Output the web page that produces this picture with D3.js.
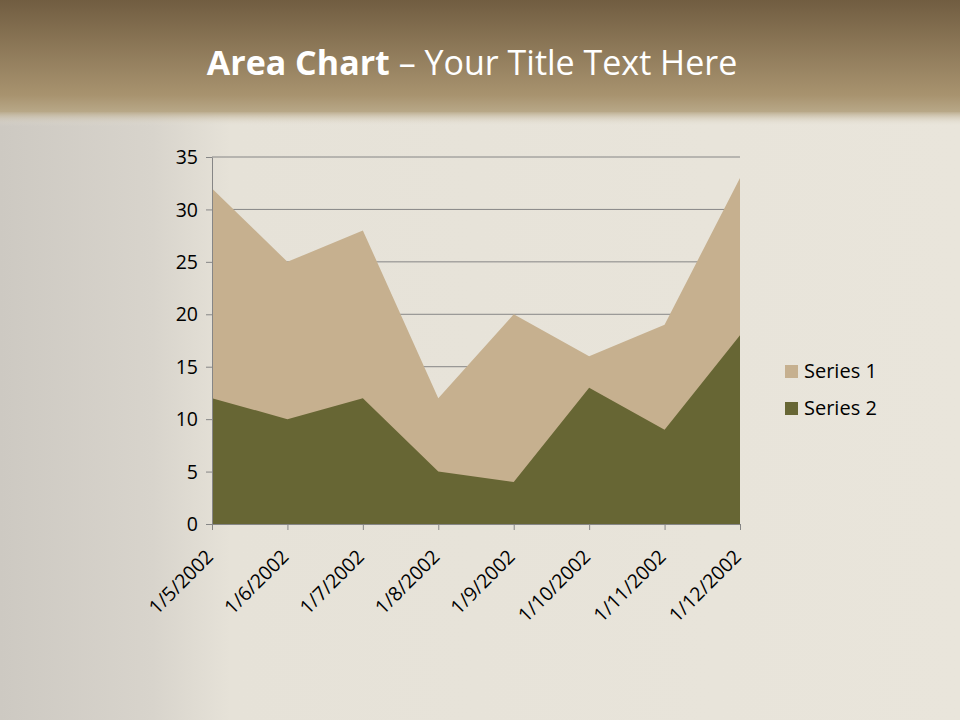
<!DOCTYPE html>
<html><head><meta charset="utf-8">
<script src="https://cdn.jsdelivr.net/npm/d3@7"></script>
<style>body{margin:0;background:#e8e4da;}svg{display:block;}</style>
</head><body>
<svg id="c" width="960" height="720"></svg>
<script>
const categories = ["1/5/2002","1/6/2002","1/7/2002","1/8/2002","1/9/2002","1/10/2002","1/11/2002","1/12/2002"];
const series1 = [32, 25, 28, 12, 20, 16, 19, 33];
const series2 = [12, 10, 12, 5, 4, 13, 9, 18];
const seriesNames = ["Series 1", "Series 2"];
const yTicks = [0, 5, 10, 15, 20, 25, 30, 35];

(function(){
const svg = d3.select("#c");
const defs = svg.append("defs");

// background
const bgH = defs.append("linearGradient").attr("id","bgH").attr("x1",0).attr("x2",1).attr("y1",0).attr("y2",0);
bgH.append("stop").attr("offset","0").attr("stop-color","#cdc9c2");
bgH.append("stop").attr("offset","0.16").attr("stop-color","#d8d4cc");
bgH.append("stop").attr("offset","0.24").attr("stop-color","#e6e2d8");
bgH.append("stop").attr("offset","1").attr("stop-color","#e9e5db");
svg.append("rect").attr("width",960).attr("height",720).attr("fill","url(#bgH)");

const hdr = defs.append("linearGradient").attr("id","hdr").attr("x1",0).attr("x2",0).attr("y1",0).attr("y2",1);
hdr.append("stop").attr("offset","0").attr("stop-color","#715d41");
hdr.append("stop").attr("offset","0.85").attr("stop-color","#a8936f");
hdr.append("stop").attr("offset","1").attr("stop-color","#b8a888");
svg.append("rect").attr("width",960).attr("height",112).attr("fill","url(#hdr)");
const fade = defs.append("linearGradient").attr("id","fade").attr("x1",0).attr("x2",0).attr("y1",0).attr("y2",1);
fade.append("stop").attr("offset","0").attr("stop-color","#b8a888").attr("stop-opacity",0.9);
fade.append("stop").attr("offset","1").attr("stop-color","#e6e2d8").attr("stop-opacity",0);
svg.append("rect").attr("y",112).attr("width",960).attr("height",14).attr("fill","url(#fade)");

// title
const title = svg.append("text").attr("x",472).attr("y",75).attr("text-anchor","middle")
  .attr("fill","#ffffff").attr("font-family","'Open Sans', 'Noto Sans', sans-serif").attr("font-size",34);
title.append("tspan").attr("font-weight","bold").text("Area Chart");
title.append("tspan").text(" \u2013 Your Title Text Here");

// chart
const pLeft = 212, pRight = 740, pTop = 157, pBottom = 524;
const x = d3.scalePoint().domain(categories).range([pLeft, pRight]);
const y = d3.scaleLinear().domain([0, 35]).range([pBottom, pTop]);
const font = "'Open Sans', 'Noto Sans', sans-serif";
const fs = 19.5;

// gridlines
svg.append("g").selectAll("line").data(yTicks.filter(d => d > 0)).join("line")
  .attr("x1", pLeft).attr("x2", pRight).attr("y1", d => y(d)).attr("y2", d => y(d))
  .attr("stroke", "#868686").attr("stroke-width", 1);

const area = vals => d3.area().x((d,i) => x(categories[i])).y0(y(0)).y1(d => y(d))(vals);
const colors = ["#c6b08f", "#676634"];
svg.append("path").attr("d", area(series1)).attr("fill", colors[0]);
svg.append("path").attr("d", area(series2)).attr("fill", colors[1]);

// y axis
const yAxis = svg.append("g").attr("transform", `translate(${pLeft},0)`)
  .call(d3.axisLeft(y).tickValues(yTicks).tickSize(6).tickPadding(6).tickSizeOuter(0));
yAxis.select(".domain").attr("stroke", "#868686");
yAxis.selectAll(".tick line").attr("stroke", "#868686");
yAxis.selectAll("text").attr("font-family", font).attr("font-size", fs).attr("fill", "#000").attr("dx", "-2").attr("dy", "0.34em");

// x axis
const xAxis = svg.append("g").attr("transform", `translate(0,${pBottom})`)
  .call(d3.axisBottom(x).tickSize(6).tickSizeOuter(0));
xAxis.select(".domain").attr("stroke", "#868686");
xAxis.selectAll(".tick line").attr("stroke", "#868686");
xAxis.selectAll("text").attr("font-family", font).attr("font-size", fs).attr("fill", "#000")
  .attr("text-anchor", "end").attr("dy", 0).attr("y", 0)
  .attr("transform", "translate(2,34) rotate(-45)");

// legend
const lg = svg.append("g");
seriesNames.forEach((n, i) => {
  const yy = 371 + i * 37;
  lg.append("rect").attr("x", 785).attr("y", yy - 6).attr("width", 13).attr("height", 13).attr("fill", colors[i]);
  lg.append("text").attr("x", 804).attr("y", yy + 7).attr("font-family", font).attr("font-size", 20)
    .attr("fill", "#000").text(n);
});
})();
</script>
</body></html>
